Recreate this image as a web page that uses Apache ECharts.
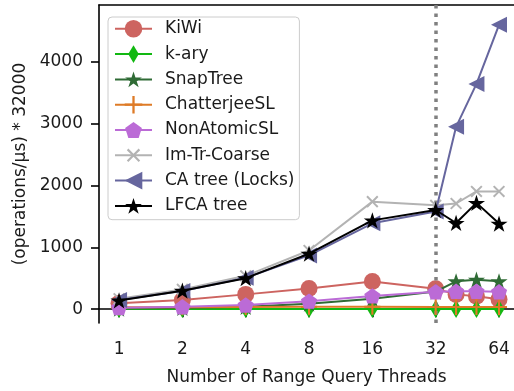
<!DOCTYPE html>
<html>
<head>
<meta charset="utf-8">
<script src="https://cdn.jsdelivr.net/npm/echarts@6/dist/echarts.min.js"></script>
<style>
  html, body { margin: 0; padding: 0; background: #fff; }
  #chart { width: 514px; height: 391px; }
</style>
</head>
<body>
<div id="chart"></div>
<script>
// Range query thread counts (x) and throughput per data structure (y)
const threads = [1, 2, 4, 8, 16, 32, 40, 50, 64];
const xTickValues = [1, 2, 4, 8, 16, 32, 64];
const yTickValues = [0, 1000, 2000, 3000, 4000];

const kiwi        = [95, 150, 240, 335, 450, 330, 240, 210, 160];
const kary        = [4, 4, 3, 3, 3, 3, 2, 2, 2];
const snapTree    = [10, 20, 40, 90, 170, 285, 452, 478, 452];
const chatterjee  = [30, 33, 35, 38, 38, 37, 37, 37, 37];
const nonAtomic   = [25, 40, 68, 130, 215, 282, 290, 290, 282];
const imTrCoarse  = [170, 320, 540, 950, 1740, 1680, 1710, 1905, 1905];
const caTree      = [150, 295, 510, 870, 1390, 1580, 2950, 3645, 4600];
const lfcaTree    = [142, 300, 502, 898, 1437, 1605, 1395, 1720, 1385];

const seriesNames = ['KiWi', 'k-ary', 'SnapTree', 'ChatterjeeSL', 'NonAtomicSL',
                     'Im-Tr-Coarse', 'CA tree (Locks)', 'LFCA tree'];

// ---- marker shapes (paths kept inside a square box so they are not stretched) ----
function polyPath(pts) {
  return 'path://M-1,-1M1,1M' + pts.map(p => p[0].toFixed(4) + ',' + p[1].toFixed(4)).join('L') + 'Z';
}
function starPts(inner) {
  const pts = [];
  for (let i = 0; i < 10; i++) {
    const a = (90 + 36 * i) * Math.PI / 180;
    const r = i % 2 === 0 ? 1 : inner;
    pts.push([r * Math.cos(a), -r * Math.sin(a) + 0.095]);
  }
  return pts;
}
function pentPts() {
  const pts = [];
  for (let i = 0; i < 5; i++) {
    const a = (90 + 72 * i) * Math.PI / 180;
    pts.push([Math.cos(a), -Math.sin(a) + 0.095]);
  }
  return pts;
}
const t = 0.13;
const plusPts = [[-t,-1],[t,-1],[t,-t],[1,-t],[1,t],[t,t],[t,1],[-t,1],[-t,t],[-1,t],[-1,-t],[-t,-t]];
const xPts = plusPts.map(p => {
  const c = Math.SQRT1_2;
  return [(p[0] - p[1]) * c * 0.95, (p[0] + p[1]) * c * 0.95];
});

const SYM = {
  circle: 'circle',
  thinDiamond: polyPath([[0,-1],[0.6,0],[0,1],[-0.6,0]]),
  star: polyPath(starPts(0.382)),
  plus: polyPath(plusPts),
  pentagon: polyPath(pentPts()),
  cross: polyPath(xPts),
  leftTri: polyPath([[-1,0],[1,-1],[1,1]])
};

const styles = [
  { color: '#cd6460', symbol: SYM.circle, size: 17 },
  { color: '#12b812', symbol: SYM.thinDiamond, size: 18 },
  { color: '#2f6b35', symbol: SYM.star, size: 18 },
  { color: '#de7b27', symbol: SYM.plus, size: 16 },
  { color: '#bb6bd6', symbol: SYM.pentagon, size: 17 },
  { color: '#b3b3b3', symbol: SYM.cross, size: 16 },
  { color: '#66669e', symbol: SYM.leftTri, size: 16 },
  { color: '#000000', symbol: SYM.star, size: 18 }
];
const values = [kiwi, kary, snapTree, chatterjee, nonAtomic, imTrCoarse, caTree, lfcaTree];

const FONT = 'DejaVu Sans';
const series = seriesNames.map((name, i) => ({
  name,
  type: 'line',
  data: threads.map((x, j) => [x, values[i][j]]),
  symbol: styles[i].symbol,
  symbolSize: styles[i].size,
  showAllSymbol: true,
  z: 3 + i,
  lineStyle: { color: styles[i].color, width: 2 },
  itemStyle: { color: styles[i].color, borderWidth: 0, opacity: 1 },
  emphasis: { disabled: true },
  animation: false
}));

// vertical dotted marker at 32 threads
series.push({
  name: 'split',
  type: 'line',
  data: [],
  z: 2,
  animation: false,
  markLine: {
    silent: true,
    symbol: 'none',
    label: { show: false },
    lineStyle: { color: '#808080', width: 3.5, type: [3.5, 5], opacity: 1 },
    data: [{ xAxis: 32 }],
    animation: false
  }
});

const chart = echarts.init(document.getElementById('chart'), null, { renderer: 'canvas' });
chart.setOption({
  backgroundColor: '#fff',
  animation: false,
  grid: { left: 99, right: 0, top: 5, bottom: 64, containLabel: false },
  legend: {
    data: seriesNames,
    orient: 'vertical',
    left: 108,
    top: 17,
    itemWidth: 37,
    itemHeight: 22,
    itemGap: 7.7,
    padding: [3, 5, 5, 6],
    backgroundColor: 'rgba(255,255,255,0.8)',
    borderColor: '#cccccc',
    borderWidth: 1,
    borderRadius: 4,
    selectedMode: false,
    textStyle: { fontFamily: FONT, fontSize: 17, color: '#1a1a1a', padding: [0, 0, 0, 8] }
  },
  xAxis: [{
    type: 'log',
    logBase: 2,
    min: 0.803,
    max: 75.4,
    name: 'Number of Range Query Threads',
    nameLocation: 'middle',
    nameGap: 46,
    nameTextStyle: { fontFamily: FONT, fontSize: 17, color: '#1a1a1a' },
    axisLine: { show: true, lineStyle: { color: '#000', width: 1.6 } },
    axisTick: { show: true, length: 8, lineStyle: { color: '#000', width: 1.6 }, customValues: xTickValues },
    axisLabel: { fontFamily: FONT, fontSize: 17, color: '#1a1a1a', margin: 18, customValues: xTickValues,
                 formatter: v => String(Math.round(v)) },
    splitLine: { show: false },
    minorTick: { show: false }
  }, {
    type: 'log',
    logBase: 2,
    min: 0.803,
    max: 75.4,
    position: 'top',
    axisLine: { show: true, onZero: false, lineStyle: { color: '#000', width: 1.6 } },
    axisTick: { show: false },
    axisLabel: { show: false },
    splitLine: { show: false }
  }],
  yAxis: {
    type: 'value',
    min: -223,
    max: 4921,
    name: '(operations/\u03bcs) * 32000',
    nameLocation: 'middle',
    nameGap: 66,
    nameTextStyle: { fontFamily: FONT, fontSize: 17, color: '#1a1a1a' },
    axisLine: { show: true, onZero: false, lineStyle: { color: '#000', width: 1.6 } },
    axisTick: { show: true, length: 8, lineStyle: { color: '#000', width: 1.6 }, customValues: yTickValues },
    axisLabel: { fontFamily: FONT, fontSize: 17, color: '#1a1a1a', margin: 16, customValues: yTickValues,
                 formatter: v => String(Math.round(v)) },
    splitLine: { show: false },
  },
  series
});
</script>
</body>
</html>
